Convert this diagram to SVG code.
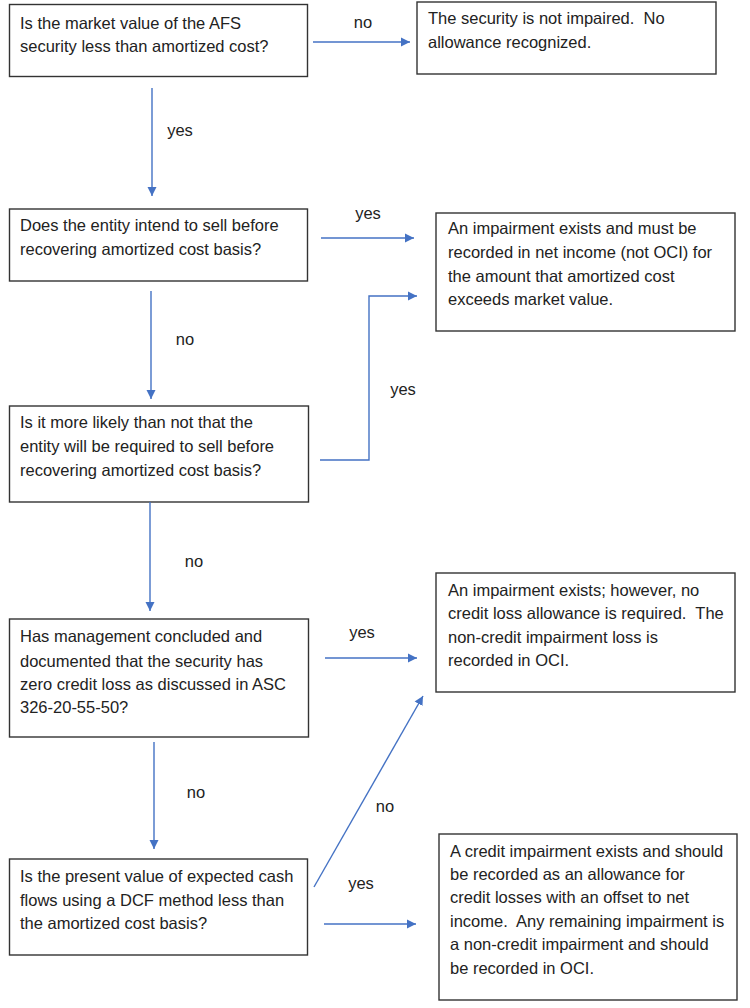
<svg xmlns="http://www.w3.org/2000/svg" width="750" height="1008" viewBox="0 0 750 1008">
<style>
.box{fill:#fff;stroke:#333;stroke-width:1.4}
.t{font-family:"Liberation Sans",Arial,sans-serif;font-size:16.5px;fill:#222;white-space:pre}
.lbl{font-family:"Liberation Sans",Arial,sans-serif;font-size:16.5px;fill:#222;text-anchor:middle}
.c{fill:none;stroke:#4472C4;stroke-width:1.4}
</style>
<defs>
<marker id="ah" markerWidth="10" markerHeight="10" refX="9" refY="5" orient="auto" markerUnits="userSpaceOnUse">
<path d="M0,0.5 L9,5 L0,9.5 Z" fill="#4472C4"/>
</marker>
</defs>
<rect width="750" height="1008" fill="#fff"/>
<g id="q1">
<rect class="box" x="9.5" y="4.5" width="298" height="72"/>
<text class="t" x="20" y="29">Is the market value of the AFS</text>
<text class="t" x="20" y="51.5">security less than amortized cost?</text>
</g>
<g id="r1">
<rect class="box" x="417" y="2" width="299" height="72"/>
<text class="t" x="428" y="24" xml:space="preserve">The security is not impaired.  No</text>
<text class="t" x="428" y="48">allowance recognized.</text>
</g>
<g id="q2">
<rect class="box" x="9.5" y="209" width="298" height="72"/>
<text class="t" x="20" y="231">Does the entity intend to sell before</text>
<text class="t" x="20" y="255">recovering amortized cost basis?</text>
</g>
<g id="r2">
<rect class="box" x="436" y="213" width="299" height="118"/>
<text class="t" x="448" y="234">An impairment exists and must be</text>
<text class="t" x="448" y="258">recorded in net income (not OCI) for</text>
<text class="t" x="448" y="281.5">the amount that amortized cost</text>
<text class="t" x="448" y="305">exceeds market value.</text>
</g>
<g id="q3">
<rect class="box" x="9.5" y="406" width="299" height="96"/>
<text class="t" x="20" y="428">Is it more likely than not that the</text>
<text class="t" x="20" y="452">entity will be required to sell before</text>
<text class="t" x="20" y="476">recovering amortized cost basis?</text>
</g>
<g id="q4">
<rect class="box" x="9.5" y="619" width="299" height="118"/>
<text class="t" x="20" y="642">Has management concluded and</text>
<text class="t" x="20" y="666.5">documented that the security has</text>
<text class="t" x="20" y="690">zero credit loss as discussed in ASC</text>
<text class="t" x="20" y="713">326-20-55-50?</text>
</g>
<g id="r3">
<rect class="box" x="436" y="573" width="299" height="119"/>
<text class="t" x="448" y="596">An impairment exists; however, no</text>
<text class="t" x="448" y="619" xml:space="preserve">credit loss allowance is required.  The</text>
<text class="t" x="448" y="643">non-credit impairment loss is</text>
<text class="t" x="448" y="666">recorded in OCI.</text>
</g>
<g id="q5">
<rect class="box" x="9.5" y="859" width="298" height="96"/>
<text class="t" x="20" y="882">Is the present value of expected cash</text>
<text class="t" x="20" y="906">flows using a DCF method less than</text>
<text class="t" x="20" y="929">the amortized cost basis?</text>
</g>
<g id="r4">
<rect class="box" x="439" y="834" width="298" height="166"/>
<text class="t" x="450" y="857">A credit impairment exists and should</text>
<text class="t" x="450" y="880">be recorded as an allowance for</text>
<text class="t" x="450" y="903">credit losses with an offset to net</text>
<text class="t" x="450" y="927" xml:space="preserve">income.  Any remaining impairment is</text>
<text class="t" x="450" y="950">a non-credit impairment and should</text>
<text class="t" x="450" y="974">be recorded in OCI.</text>
</g>
<g id="connectors">
<line class="c" x1="313" y1="42" x2="410" y2="42" marker-end="url(#ah)"/>
<text class="lbl" x="363" y="28">no</text>
<line class="c" x1="152" y1="88" x2="152" y2="196" marker-end="url(#ah)"/>
<text class="lbl" x="180" y="136">yes</text>
<line class="c" x1="321" y1="238" x2="414" y2="238" marker-end="url(#ah)"/>
<text class="lbl" x="368" y="219">yes</text>
<line class="c" x1="151" y1="291" x2="151" y2="399" marker-end="url(#ah)"/>
<text class="lbl" x="185" y="345">no</text>
<polyline class="c" points="320,460 369,460 369,296 417,296" marker-end="url(#ah)"/>
<text class="lbl" x="403" y="395">yes</text>
<line class="c" x1="150" y1="502" x2="150" y2="611" marker-end="url(#ah)"/>
<text class="lbl" x="194" y="567">no</text>
<line class="c" x1="325" y1="658" x2="417" y2="658" marker-end="url(#ah)"/>
<text class="lbl" x="362" y="638">yes</text>
<line class="c" x1="154" y1="742" x2="154" y2="849" marker-end="url(#ah)"/>
<text class="lbl" x="196" y="798">no</text>
<line class="c" x1="314" y1="887" x2="423" y2="696" marker-end="url(#ah)"/>
<text class="lbl" x="385" y="812">no</text>
<line class="c" x1="324" y1="924" x2="416" y2="924" marker-end="url(#ah)"/>
<text class="lbl" x="361" y="889">yes</text>
</g>
</svg>
